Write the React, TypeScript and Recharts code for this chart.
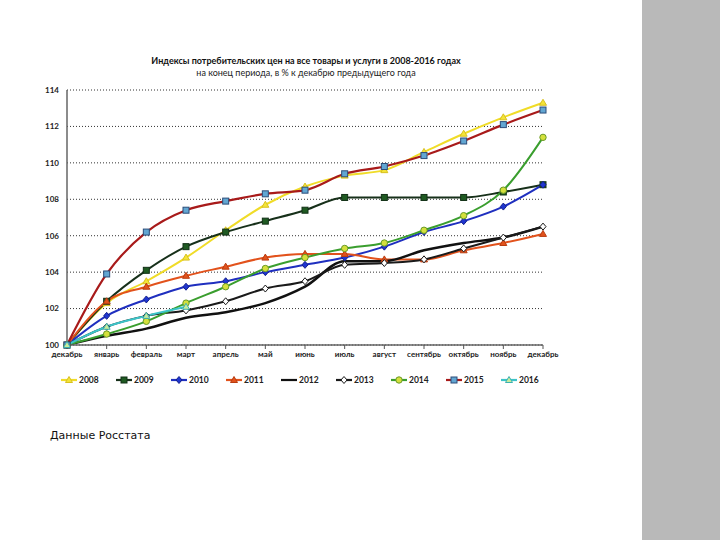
import React from "react";
import { LineChart, Line, XAxis, YAxis, CartesianGrid, Legend } from "recharts";

const MONTHS = [
  "декабрь", "январь", "февраль", "март", "апрель", "май", "июнь",
  "июль", "август", "сентябрь", "октябрь", "ноябрь", "декабрь",
];

const Y_TICKS = [100, 102, 104, 106, 108, 110, 112, 114];

const V2008 = [100, 102.3, 103.5, 104.8, 106.3, 107.7, 108.7, 109.3, 109.6, 110.6, 111.6, 112.5, 113.3];
const V2009 = [100, 102.4, 104.1, 105.4, 106.2, 106.8, 107.4, 108.1, 108.1, 108.1, 108.1, 108.4, 108.8];
const V2010 = [100, 101.6, 102.5, 103.2, 103.5, 104.0, 104.4, 104.8, 105.4, 106.2, 106.8, 107.6, 108.8];
const V2011 = [100, 102.4, 103.2, 103.8, 104.3, 104.8, 105.0, 105.0, 104.7, 104.7, 105.2, 105.6, 106.1];
const V2012 = [100, 100.5, 100.9, 101.5, 101.8, 102.3, 103.2, 104.6, 104.6, 105.2, 105.6, 105.9, 106.5];
const V2013 = [100, 101.0, 101.6, 101.9, 102.4, 103.1, 103.5, 104.4, 104.5, 104.7, 105.3, 105.9, 106.5];
const V2014 = [100, 100.6, 101.3, 102.3, 103.2, 104.2, 104.8, 105.3, 105.6, 106.3, 107.1, 108.5, 111.4];
const V2015 = [100, 103.9, 106.2, 107.4, 107.9, 108.3, 108.5, 109.4, 109.8, 110.4, 111.2, 112.1, 112.9];
const V2016 = [100, 101.0, 101.6, 102.1, null, null, null, null, null, null, null, null, null];

type Shape = "none" | "triangle" | "square" | "diamond" | "circle";

const SERIES: { key: string; stroke: string; width: number; shape: Shape; fill: string; edge: string }[] = [
  { key: "2008", stroke: "#f0dc28", width: 2, shape: "triangle", fill: "#f4e438", edge: "#d8c020" },
  { key: "2009", stroke: "#17301a", width: 2, shape: "square", fill: "#1f5a22", edge: "#123016" },
  { key: "2010", stroke: "#1f2fbf", width: 2, shape: "diamond", fill: "#1f35d0", edge: "#13208a" },
  { key: "2011", stroke: "#e2521c", width: 2, shape: "triangle", fill: "#e2521c", edge: "#b83c10" },
  { key: "2012", stroke: "#111111", width: 2.5, shape: "none", fill: "#111111", edge: "#111111" },
  { key: "2013", stroke: "#1a1a1a", width: 2, shape: "diamond", fill: "#ffffff", edge: "#1a1a1a" },
  { key: "2014", stroke: "#3a9e2e", width: 2, shape: "circle", fill: "#d4e03c", edge: "#6a9a28" },
  { key: "2015", stroke: "#a81a1a", width: 2.2, shape: "square", fill: "#62a6d2", edge: "#2c4d7a" },
  { key: "2016", stroke: "#3cc4c8", width: 2, shape: "triangle", fill: "#c8ec9c", edge: "#3cb0b0" },
];

const VALUES: Record<string, (number | null)[]> = {
  "2008": V2008, "2009": V2009, "2010": V2010, "2011": V2011, "2012": V2012,
  "2013": V2013, "2014": V2014, "2015": V2015, "2016": V2016,
};

const data = MONTHS.map((m, i) => {
  const row: Record<string, any> = { month: m, idx: i };
  SERIES.forEach((s) => (row[s.key] = VALUES[s.key][i]));
  return row;
});

function marker(shape: Shape, cx: number, cy: number, fill: string, edge: string, key?: any) {
  if (shape === "square")
    return <rect key={key} x={cx - 3} y={cy - 3} width={6} height={6} fill={fill} stroke={edge} strokeWidth={1} />;
  if (shape === "diamond")
    return <polygon key={key} points={`${cx},${cy - 3.5} ${cx + 3},${cy} ${cx},${cy + 3.5} ${cx - 3},${cy}`} fill={fill} stroke={edge} strokeWidth={1} />;
  if (shape === "triangle")
    return <polygon key={key} points={`${cx},${cy - 3.5} ${cx + 3.5},${cy + 2.5} ${cx - 3.5},${cy + 2.5}`} fill={fill} stroke={edge} strokeWidth={1} />;
  if (shape === "circle")
    return <circle key={key} cx={cx} cy={cy} r={3.2} fill={fill} stroke={edge} strokeWidth={1} />;
  return <g key={key} />;
}

function makeDot(s: (typeof SERIES)[number]) {
  return (props: any) => {
    const { cx, cy, index } = props;
    const k = `${s.key}-${index}`;
    if (cx == null || cy == null || props.value == null) return <g key={k} />;
    return marker(s.shape, cx, cy, s.fill, s.edge, k);
  };
}

const font = "Lato, 'Liberation Sans', sans-serif";

const renderLegend = () => (
  <div style={{ display: "flex", fontFamily: font, fontSize: 8.5, fontWeight: 700, color: "#222" }}>
    {SERIES.map((s) => (
      <div key={s.key} style={{ width: 55, display: "flex", alignItems: "center" }}>
        <svg width={18} height={10}>
          <line x1={1} y1={5} x2={17} y2={5} stroke={s.stroke} strokeWidth={2.2} />
          {marker(s.shape, 9, 5, s.fill, s.edge)}
        </svg>
        <span style={{ marginLeft: 1 }}>{s.key}</span>
      </div>
    ))}
  </div>
);

export default function App() {
  return (
    <div style={{ position: "absolute", left: 0, top: 0, width: 720, height: 540, background: "#fff", overflow: "hidden" }}>
      <div style={{ position: "absolute", left: 0, width: 612, top: 55, textAlign: "center", fontFamily: font, fontWeight: 700, fontSize: 9, color: "#111" }}>
        Индексы потребительских цен на все товары и услуги в 2008-2016 годах
      </div>
      <div style={{ position: "absolute", left: 0, width: 612, top: 67, textAlign: "center", fontFamily: font, fontSize: 9, color: "#222" }}>
        на конец периода, в % к декабрю предыдущего года
      </div>
      <LineChart
        width={642}
        height={420}
        data={data}
        margin={{ top: 90, right: 99, bottom: 45, left: 37 }}
        style={{ position: "absolute", left: 0, top: 0 }}
      >
        <CartesianGrid vertical={false} stroke="#333" strokeDasharray="1 2" />
        <XAxis
          dataKey="idx"
          tickFormatter={(i: number) => MONTHS[i]}
          interval={0}
          height={20}
          tick={{ fontSize: 8, fill: "#222", fontFamily: font, fontWeight: 700 }}
          tickSize={4}
          stroke="#555"
          axisLine={{ stroke: "#666", strokeWidth: 1.5 }}
        />
        <YAxis
          domain={[100, 114]}
          ticks={Y_TICKS}
          width={30}
          tickLine={false}
          tick={{ fontSize: 8, fill: "#222", fontFamily: font, fontWeight: 700 }}
          axisLine={{ stroke: "#666", strokeWidth: 1.5 }}
        />
        {SERIES.map((s) => (
          <Line
            key={s.key}
            dataKey={s.key}
            type="monotone"
            stroke={s.stroke}
            strokeWidth={s.width}
            dot={makeDot(s)}
            activeDot={false}
            isAnimationActive={false}
          />
        ))}
        <Legend content={renderLegend} wrapperStyle={{ position: "absolute", top: 375, left: 60, width: 520 }} />
      </LineChart>
      <div style={{ position: "absolute", left: 50, top: 429, fontFamily: "'DejaVu Sans', sans-serif", fontSize: 11, color: "#111" }}>
        Данные Росстата
      </div>
      <div style={{ position: "absolute", left: 642, top: 0, width: 78, height: 540, background: "#b9b9b9" }} />
    </div>
  );
}
